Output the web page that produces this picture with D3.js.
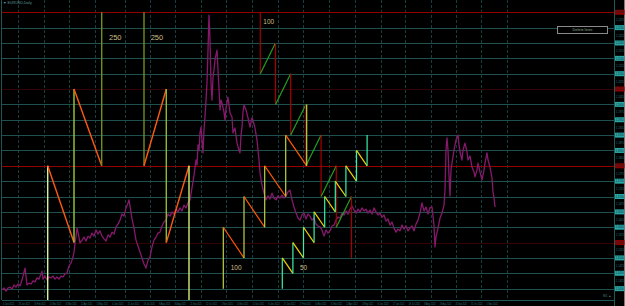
<!DOCTYPE html>
<html>
<head>
<meta charset="utf-8">
<script src="https://cdn.jsdelivr.net/npm/d3@7"></script>
<style>
  body { margin: 0; background: #000; }
  svg { display: block; }
</style>
</head>
<body>
<div id="chart"></div>
<script>
// price levels (50 pip steps) drawn as horizontal lines
const levels = [1.2300, 1.2250, 1.2200, 1.2150, 1.2100, 1.2050, 1.2000, 1.1950, 1.1900, 1.1850,
                1.1800, 1.1750, 1.1700, 1.1650, 1.1600, 1.1550, 1.1500, 1.1450, 1.1400];
const redLevels = [1.2300, 1.1800];
const darkRedLevels = [1.2050, 1.1550];

// vertical period separators (bar index)
const gridBars = [16, 42, 67, 93, 123, 148, 173, 199, 224, 250, 276, 301, 327, 353, 379, 403, 429, 454, 479, 505];

const dateLabels = ["4 Jan 2021", "26 Jan 2021", "16 Feb 2021", "10 Mar 2021", "31 Mar 2021", "22 Apr 2021",
  "13 May 2021", "4 Jun 2021", "25 Jun 2021", "19 Jul 2021", "9 Aug 2021", "30 Aug 2021", "21 Sep 2021",
  "12 Oct 2021", "2 Nov 2021", "24 Nov 2021", "15 Dec 2021", "6 Jan 2022", "27 Jan 2022", "17 Feb 2022",
  "10 Mar 2022", "31 Mar 2022", "22 Apr 2022", "13 May 2022", "6 Jun 2022", "27 Jun 2022", "18 Jul 2022",
  "8 Aug 2022", "29 Aug 2022", "20 Sep 2022", "11 Oct 2022", "1 Nov 2022"];

// close prices [bar, close]
const closes = [
  [0,1.1396],[2,1.1402],[4,1.1392],[6,1.1402],[8,1.1405],[10,1.1399],[12,1.1412],[14,1.1405],[16,1.1415],[18,1.1409],
  [20,1.1428],[22,1.1454],[23,1.1467],[24,1.1441],[25,1.1412],[27,1.1418],[29,1.1415],[31,1.1425],[33,1.1422],[35,1.1435],
  [37,1.1431],[39,1.1448],[40,1.1457],[41,1.1431],[43,1.1441],[45,1.1428],[47,1.1438],[49,1.1435],[51,1.1441],[53,1.1431],
  [55,1.1438],[57,1.1431],[59,1.1441],[61,1.1438],[63,1.1448],[65,1.1451],[67,1.1474],[69,1.1483],[71,1.1503],[72,1.1519],
  [73,1.1549],[74,1.1571],[75,1.1597],[76,1.1584],[78,1.1549],[80,1.1558],[82,1.1568],[84,1.1555],[86,1.1571],[88,1.1565],
  [90,1.1581],[92,1.1571],[94,1.1591],[96,1.1578],[98,1.1588],[100,1.1571],[102,1.1562],[104,1.1555],[106,1.1575],[108,1.1568],
  [110,1.1584],[112,1.1578],[114,1.1601],[116,1.1610],[118,1.1623],[120,1.1643],[122,1.1636],[124,1.1663],[126,1.1679],[127,1.1689],
  [128,1.1669],[130,1.1627],[132,1.1597],[134,1.1558],[136,1.1539],[138,1.1519],[140,1.1500],[142,1.1480],[144,1.1467],[146,1.1493],
  [148,1.1503],[150,1.1536],[152,1.1558],[154,1.1568],[156,1.1581],[158,1.1584],[160,1.1604],[162,1.1617],[164,1.1623],[166,1.1643],
  [168,1.1636],[170,1.1650],[172,1.1643],[174,1.1659],[176,1.1650],[178,1.1663],[180,1.1653],[182,1.1672],[184,1.1663],[186,1.1679],
  [188,1.1689],[190,1.1728],[192,1.1770],[194,1.1819],[195,1.1803],[196,1.1868],[197,1.1851],[198,1.1907],[199,1.1926],[200,1.1884],
  [201,1.1842],[202,1.1917],[203,1.1959],[204,1.2014],[205,1.2070],[206,1.2177],[207,1.2291],[208,1.2210],[209,1.2070],[210,1.2014],
  [211,1.2089],[212,1.2112],[213,1.2145],[214,1.2161],[215,1.2177],[216,1.2112],[217,1.2053],[218,1.1982],[219,1.2014],[220,1.2005],
  [222,1.1975],[223,1.1949],[224,1.1988],[226,1.2024],[227,1.1998],[228,1.1972],[230,1.1959],[231,1.1907],[233,1.1923],[235,1.1874],
  [237,1.1851],[238,1.1842],[239,1.1900],[240,1.1926],[241,1.1975],[242,1.1998],[244,1.1982],[246,1.1956],[248,1.1926],[250,1.1956],
  [251,1.1949],[253,1.1923],[255,1.1884],[257,1.1819],[258,1.1777],[260,1.1737],[262,1.1711],[264,1.1689],[266,1.1702],[268,1.1692],
  [270,1.1711],[272,1.1695],[274,1.1689],[276,1.1702],[278,1.1695],[280,1.1705],[282,1.1695],[284,1.1702],[286,1.1715],[288,1.1721],
  [290,1.1689],[292,1.1666],[294,1.1646],[296,1.1630],[298,1.1623],[300,1.1640],[302,1.1646],[304,1.1627],[306,1.1643],[308,1.1636],
  [310,1.1623],[312,1.1630],[314,1.1610],[316,1.1604],[318,1.1601],[320,1.1591],[322,1.1571],[324,1.1591],[326,1.1581],[328,1.1588],
  [330,1.1604],[332,1.1607],[334,1.1623],[336,1.1633],[338,1.1630],[340,1.1646],[342,1.1640],[344,1.1653],[346,1.1643],[348,1.1659],
  [350,1.1669],[352,1.1656],[354,1.1646],[356,1.1659],[358,1.1650],[360,1.1663],[362,1.1653],[364,1.1659],[366,1.1646],[368,1.1656],
  [370,1.1643],[372,1.1663],[374,1.1650],[376,1.1640],[378,1.1646],[380,1.1633],[382,1.1640],[384,1.1620],[386,1.1627],[388,1.1607],
  [390,1.1617],[392,1.1597],[394,1.1584],[396,1.1594],[398,1.1588],[400,1.1607],[402,1.1594],[404,1.1604],[406,1.1588],[408,1.1597],
  [410,1.1604],[412,1.1588],[414,1.1610],[416,1.1623],[418,1.1646],[420,1.1679],[422,1.1653],[424,1.1666],[426,1.1643],[428,1.1663],
  [430,1.1666],[432,1.1607],[433,1.1536],[434,1.1568],[436,1.1597],[438,1.1630],[440,1.1646],[442,1.1672],[443,1.1721],[444,1.1851],
  [445,1.1891],[446,1.1851],[447,1.1770],[448,1.1702],[449,1.1786],[450,1.1809],[452,1.1851],[454,1.1884],[456,1.1900],[457,1.1868],
  [458,1.1845],[460,1.1819],[461,1.1851],[463,1.1874],[465,1.1845],[466,1.1819],[468,1.1832],[470,1.1796],[472,1.1780],[473,1.1764],
  [475,1.1786],[476,1.1809],[478,1.1780],[480,1.1754],[482,1.1786],[483,1.1809],[485,1.1842],[486,1.1819],[488,1.1796],[490,1.1760],
  [491,1.1715],[492,1.1695],[493,1.1666]
];

// zigzag objects [bar, price]
const s250Left = [[45.7,1.1360],[45.7,1.1800],[72,1.1550],[72,1.2050],[99.7,1.1800],[99.7,1.2300]];
const s250Right = [[142,1.2300],[142,1.1800],[164.3,1.2050],[164.3,1.1550],[187,1.1800],[187,1.1360]];
const s100Red = [[258.3,1.2300],[258.3,1.2100],[273.5,1.2200],[273.5,1.2000],[288.7,1.2100],[288.7,1.1900],[303.9,1.2000],
  [303.9,1.1800],[319.1,1.1900],[319.1,1.1700],[334.3,1.1800],[334.3,1.1600],[349.5,1.1700],[349.5,1.1500]];
const s100Orange = [[221.3,1.1400],[221.3,1.1600],[242,1.1500],[242,1.1700],[262.7,1.1600],[262.7,1.1800],
  [283.7,1.1700],[283.7,1.1900],[304.7,1.1800],[304.7,1.2000]];
const s50 = [[280.3,1.1400],[280.3,1.1500],[290.9,1.1450],[290.9,1.1550],[301.5,1.1500],[301.5,1.1600],[312.1,1.1550],
  [312.1,1.1650],[322.7,1.1600],[322.7,1.1700],[333.3,1.1650],[333.3,1.1750],[343.9,1.1700],[343.9,1.1800],
  [354.5,1.1750],[354.5,1.1850],[365.1,1.1800],[365.1,1.1900]];

const pipLabels = [
  { text: "250", bar: 107, price: 1.2210 },
  { text: "250", bar: 148.7, price: 1.2210 },
  { text: "100", bar: 261.3, price: 1.2262 },
  { text: "100", bar: 228.7, price: 1.1461 },
  { text: "50", bar: 298, price: 1.1461 }
];

const width = 625;
const height = 306;
const plot = { left: 2, right: 613, top: 0, bottom: 300 };
const font = "Liberation Sans, Arial, sans-serif";

const x = d3.scaleLinear().domain([0, 611]).range([plot.left, plot.right]);
const y = d3.scaleLinear().domain([1.2340, 1.1363]).range([plot.top, plot.bottom]);

const svg = d3.select("#chart").append("svg")
  .attr("width", width)
  .attr("height", height)
  .style("background", "#000");

svg.append("clipPath").attr("id", "clip")
  .append("rect")
  .attr("x", plot.left).attr("y", plot.top)
  .attr("width", plot.right - plot.left).attr("height", plot.bottom - plot.top);

// dashed period separators
svg.append("g").selectAll("line")
  .data(gridBars)
  .enter().append("line")
  .attr("x1", d => Math.round(x(d)) + 0.5).attr("x2", d => Math.round(x(d)) + 0.5)
  .attr("y1", plot.top).attr("y2", plot.bottom)
  .attr("stroke", "#153f3f")
  .attr("stroke-dasharray", "3,2");

// horizontal levels
svg.append("g").selectAll("line")
  .data(levels)
  .enter().append("line")
  .attr("x1", plot.left).attr("x2", plot.right + 1)
  .attr("y1", d => Math.round(y(d)) + 0.5).attr("y2", d => Math.round(y(d)) + 0.5)
  .attr("stroke", d => redLevels.includes(d) ? "#930000" : darkRedLevels.includes(d) ? "#360303" : "#1f5050");

const plotG = svg.append("g").attr("clip-path", "url(#clip)");

// price line
plotG.append("path")
  .datum(closes)
  .attr("fill", "none")
  .attr("stroke", "#86196c")
  .attr("stroke-width", 1.3)
  .attr("stroke-linejoin", "round")
  .attr("d", d3.line().x(d => x(d[0])).y(d => y(d[1])));

function drawZigzag(points, colors, w) {
  const segs = d3.pairs(points).map((p, i) => ({ a: p[0], b: p[1], c: colors[i % colors.length] }));
  plotG.append("g").selectAll("line")
    .data(segs)
    .enter().append("line")
    .attr("x1", d => x(d.a[0])).attr("y1", d => y(d.a[1]))
    .attr("x2", d => x(d.b[0])).attr("y2", d => y(d.b[1]))
    .attr("stroke", d => d.c)
    .attr("stroke-width", w || 1.2);
}

drawZigzag(s250Left, ["#d8f29a", "#ff5a10", "#9acd32", "#ff5a10", "#6f8f22"], 1.4);
drawZigzag(s250Right, ["#6f8f22", "#ff5a10", "#8fb82e", "#ff5a10", "#d0ee70"], 1.4);
drawZigzag(s100Red, ["#a80000", "#22a022"]);
drawZigzag(s100Orange, ["#bcd448", "#ff5a00"]);
drawZigzag(s50, ["#3af0a8", "#f2d200"]);

svg.append("g").selectAll("text")
  .data(pipLabels)
  .enter().append("text")
  .attr("x", d => x(d.bar))
  .attr("y", d => y(d.price))
  .attr("fill", "#cbbf88")
  .style("font-family", font)
  .style("font-size", d => d.text === "250" ? "7.5px" : "6.5px")
  .text(d => d.text);

// axes borders
svg.append("line").attr("x1", 1.5).attr("x2", 1.5).attr("y1", 0).attr("y2", plot.bottom).attr("stroke", "#1e5656");
svg.append("line").attr("x1", plot.right + 1.5).attr("x2", plot.right + 1.5).attr("y1", 0).attr("y2", plot.bottom + 6).attr("stroke", "#1e5a5a");
svg.append("line").attr("x1", plot.left).attr("x2", plot.right + 1).attr("y1", plot.bottom + 0.5).attr("y2", plot.bottom + 0.5).attr("stroke", "#1e5a5a");
svg.append("line").attr("x1", width - 0.5).attr("x2", width - 0.5).attr("y1", 0).attr("y2", height).attr("stroke", "#7a7a7a");

// right price scale
const fmt = d3.format(".4f");
const midLevels = levels.slice(0, -1).map(d => d - 0.0025);
svg.append("g").selectAll("text")
  .data(midLevels)
  .enter().append("text")
  .attr("x", plot.right + 3)
  .attr("y", d => y(d) + 1.2)
  .attr("fill", "#2f7a7a")
  .style("font-family", font)
  .style("font-size", "3.2px")
  .attr("textLength", 8)
  .attr("lengthAdjust", "spacingAndGlyphs")
  .text(d => fmt(d));

const tagG = svg.append("g").selectAll("g")
  .data(levels)
  .enter().append("g");
tagG.append("rect")
  .attr("x", plot.right + 2)
  .attr("y", d => y(d) - 2.5)
  .attr("width", 9.5).attr("height", 5)
  .attr("fill", d => redLevels.includes(d) || darkRedLevels.includes(d) ? "#8e0000" : "#2aa6a6");
tagG.append("text")
  .attr("x", plot.right + 2.7)
  .attr("y", d => y(d) + 1.2)
  .attr("fill", "#0a2a2a")
  .style("font-family", font)
  .style("font-size", "3.2px")
  .attr("textLength", 8)
  .attr("lengthAdjust", "spacingAndGlyphs")
  .text(d => fmt(d));

// bottom time scale
svg.append("g").selectAll("text")
  .data(dateLabels)
  .enter().append("text")
  .attr("x", (d, i) => x(i * 15.6) + 1)
  .attr("y", plot.bottom + 4.5)
  .attr("fill", "#2f7a7a")
  .style("font-family", font)
  .style("font-size", "2.8px")
  .attr("textLength", 11.5)
  .attr("lengthAdjust", "spacingAndGlyphs")
  .text(d => d);

// title and object box
svg.append("text")
  .attr("x", 3).attr("y", 4)
  .attr("fill", "#5a9a9a")
  .style("font-family", font)
  .style("font-size", "3.6px")
  .text("▼ EURUSD,Daily");

svg.append("rect")
  .attr("x", 557.5).attr("y", 26.5)
  .attr("width", 50).attr("height", 7)
  .attr("fill", "#000")
  .attr("stroke", "#8a8a8a");
svg.append("text")
  .attr("x", 582.5).attr("y", 31.3)
  .attr("text-anchor", "middle")
  .attr("fill", "#8aa88a")
  .style("font-family", font)
  .style("font-size", "3.8px")
  .text("Delete lines");

svg.append("text")
  .attr("x", 603).attr("y", 297)
  .attr("fill", "#4a7a7a")
  .style("font-family", font)
  .style("font-size", "3.2px")
  .text("M1 ▲");
</script>
</body>
</html>
